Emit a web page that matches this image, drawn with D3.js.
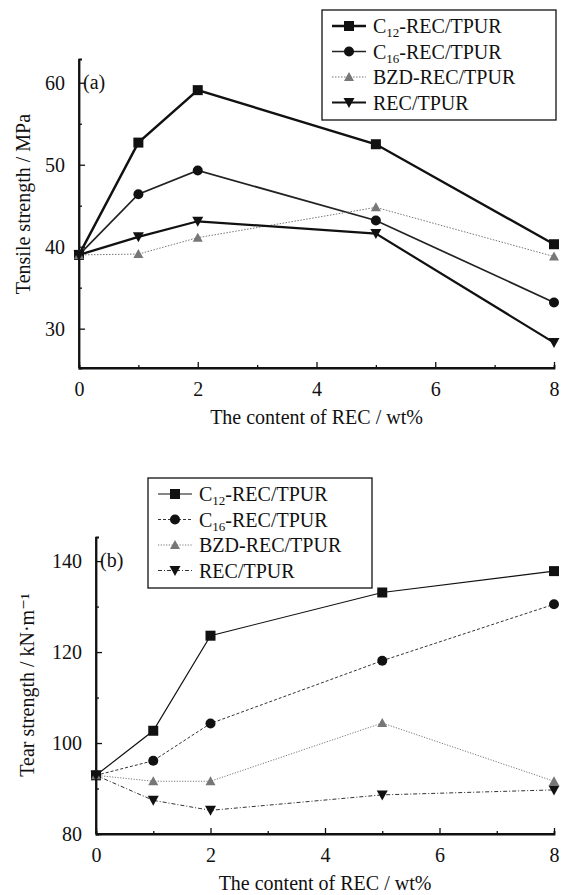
<!DOCTYPE html>
<html>
<head>
<meta charset="utf-8">
<script src="https://cdn.jsdelivr.net/npm/d3@7"></script>
<style>
  body { margin: 0; background: #fff; }
  svg { display: block; }
  text { font-family: "Liberation Serif", "Times New Roman", "DejaVu Serif", serif; fill: #111; }
</style>
</head>
<body>
<div id="chart"></div>
<script>
// values
var content = [0, 1, 2, 5, 8];

var seriesNames = ["C12-REC/TPUR", "C16-REC/TPUR", "BZD-REC/TPUR", "REC/TPUR"];

// (a) tensile strength, MPa
var tensileC12 = [39.0, 52.7, 59.1, 52.5, 40.3];
var tensileC16 = [39.0, 46.4, 49.3, 43.2, 33.2];
var tensileBZD = [39.0, 39.1, 41.1, 44.8, 38.8];
var tensileREC = [39.0, 41.2, 43.1, 41.6, 28.3];

// (b) tear strength, kN/m
var tearC12 = [92.9, 102.7, 123.6, 133.1, 137.8];
var tearC16 = [92.9, 96.1, 104.3, 118.1, 130.5];
var tearBZD = [92.9, 91.6, 91.6, 104.4, 91.6];
var tearREC = [92.9, 87.4, 85.2, 88.6, 89.7];

var xTicks = [0, 2, 4, 6, 8];
var xMinor = [1, 3, 5, 7];
var tensileTicks = [30, 40, 50, 60];
var tensileMinor = [35, 45, 55];
var tearTicks = [80, 100, 120, 140];
var tearMinor = [90, 110, 130];

var W = 567, H = 895;
var svg = d3.select("#chart").append("svg")
    .attr("width", W)
    .attr("height", H);

// marker drawing
function marker(g, kind, x, y, col) {
  if (kind == "square") {
    g.append("rect").attr("x", x - 5).attr("y", y - 5)
      .attr("width", 10).attr("height", 10).attr("fill", "#111");
  } else if (kind == "circle") {
    g.append("circle").attr("cx", x).attr("cy", y).attr("r", 5).attr("fill", "#111");
  } else if (kind == "up") {
    g.append("path").attr("d", "M" + x + "," + (y - 5) + "L" + (x + 5) + "," + (y + 4) + "L" + (x - 5) + "," + (y + 4) + "Z")
      .attr("fill", col || "#666");
  } else {
    g.append("path").attr("d", "M" + (x - 5.5) + "," + (y - 4.5) + "L" + (x + 5.5) + "," + (y - 4.5) + "L" + x + "," + (y + 5.5) + "Z")
      .attr("fill", "#111");
  }
}

function legendLabel(t, name) {
  var m = name.match(/^C(\d+)(-.*)$/);
  if (m) {
    t.append("tspan").text("C");
    t.append("tspan").attr("font-size", "13px").attr("dy", 4).text(m[1]);
    t.append("tspan").attr("dy", -4).text(m[2]);
  } else {
    t.text(name);
  }
}

function panel(opt) {
  var g = svg.append("g");
  var x = d3.scaleLinear().domain([0, 8]).range([opt.left, opt.right]);
  var y = d3.scaleLinear().domain(opt.yDomain).range([opt.bottom, opt.top]);

  // axes, ticks inside
  var xAxis = g.append("g").attr("transform", "translate(0," + opt.bottom + ")")
    .call(d3.axisBottom(x).tickValues(xTicks).tickSize(-6).tickPadding(14).tickFormat(d3.format("d")));
  g.append("g").attr("transform", "translate(0," + opt.bottom + ")")
    .call(d3.axisBottom(x).tickValues(xMinor).tickSize(-3).tickFormat(""));
  var yAxis = g.append("g").attr("transform", "translate(" + opt.left + ",0)")
    .call(d3.axisLeft(y).tickValues(opt.yTicks).tickSize(-6).tickPadding(14).tickFormat(d3.format("d")));
  g.append("g").attr("transform", "translate(" + opt.left + ",0)")
    .call(d3.axisLeft(y).tickValues(opt.yMinor).tickSize(-3).tickFormat(""));

  g.selectAll(".domain").attr("stroke", "#111").attr("stroke-width", 1.8);
  g.selectAll(".tick line").attr("stroke", "#111").attr("stroke-width", 1.3);
  g.selectAll(".tick text").attr("font-size", "20px").attr("font-family", null).attr("fill", "#111");
  xAxis.selectAll(".domain").attr("d", "M" + (opt.left) + ",0H" + opt.right);
  yAxis.selectAll(".domain").attr("d", "M0," + opt.bottom + "V" + opt.top);

  // panel tag
  g.append("text").attr("x", opt.left + 4).attr("y", y(opt.tagAt) + 6)
    .attr("font-size", "20px").text(opt.tag);

  // axis titles
  g.append("text")
    .attr("transform", "translate(" + opt.yTitleX + "," + opt.yTitleY + ") rotate(-90)")
    .attr("text-anchor", "middle").attr("font-size", "20px")
    .text(opt.yTitle);
  g.append("text").attr("x", (opt.left + opt.right) / 2).attr("y", opt.xTitleY)
    .attr("text-anchor", "middle").attr("font-size", "20px")
    .text("The content of REC / wt%");

  var line = d3.line().x(function(d, i) { return x(content[i]); }).y(function(d) { return y(d); });

  opt.series.forEach(function(s) {
    g.append("path").datum(s.values)
      .attr("d", line)
      .attr("fill", "none")
      .attr("stroke", s.color)
      .attr("stroke-width", s.width)
      .attr("stroke-dasharray", s.dash || null);
  });
  opt.series.forEach(function(s) {
    s.values.forEach(function(v, i) { marker(g, s.mark, x(content[i]), y(v), s.color); });
  });

  // legend box
  var lg = g.append("g").attr("transform", "translate(" + opt.legX + "," + opt.legY + ")");
  lg.append("rect").attr("width", opt.legW).attr("height", opt.legH)
    .attr("fill", "#fff").attr("stroke", "#111").attr("stroke-width", 1.3);
  opt.series.forEach(function(s, i) {
    var cy = 16 + i * 25.5;
    lg.append("line").attr("x1", 10).attr("x2", 44).attr("y1", cy).attr("y2", cy)
      .attr("stroke", s.color).attr("stroke-width", s.width).attr("stroke-dasharray", s.dash || null);
    marker(lg, s.mark, 27, cy, s.color);
    var t = lg.append("text").attr("x", 51).attr("y", cy + 7).attr("font-size", "20px");
    legendLabel(t, s.name);
  });
}

panel({
  left: 79, right: 554, top: 59, bottom: 368,
  yDomain: [25.2, 62.9], yTicks: tensileTicks, yMinor: tensileMinor,
  tag: "(a)", tagAt: 60,
  yTitle: "Tensile strength / MPa", yTitleX: 30, yTitleY: 204, xTitleY: 424,
  legX: 322, legY: 10, legW: 234, legH: 110,
  series: [
    { name: seriesNames[0], values: tensileC12, mark: "square", color: "#111", width: 2.4 },
    { name: seriesNames[1], values: tensileC16, mark: "circle", color: "#222", width: 1.7 },
    { name: seriesNames[2], values: tensileBZD, mark: "up", color: "#777", width: 1, dash: "1.5,1.5" },
    { name: seriesNames[3], values: tensileREC, mark: "down", color: "#111", width: 2.2 }
  ]
});

panel({
  left: 96, right: 554, top: 537, bottom: 834,
  yDomain: [80, 145.3], yTicks: tearTicks, yMinor: tearMinor,
  tag: "(b)", tagAt: 140,
  yTitle: "Tear strength / kN\u00b7m\u207b\u00b9", yTitleX: 34, yTitleY: 685, xTitleY: 890,
  legX: 148, legY: 478, legW: 224, legH: 110,
  series: [
    { name: seriesNames[0], values: tearC12, mark: "square", color: "#111", width: 1.2 },
    { name: seriesNames[1], values: tearC16, mark: "circle", color: "#333", width: 1, dash: "3,2" },
    { name: seriesNames[2], values: tearBZD, mark: "up", color: "#777", width: 1, dash: "1.2,1.5" },
    { name: seriesNames[3], values: tearREC, mark: "down", color: "#333", width: 1, dash: "4,2,1,2" }
  ]
});
</script>
</body>
</html>
